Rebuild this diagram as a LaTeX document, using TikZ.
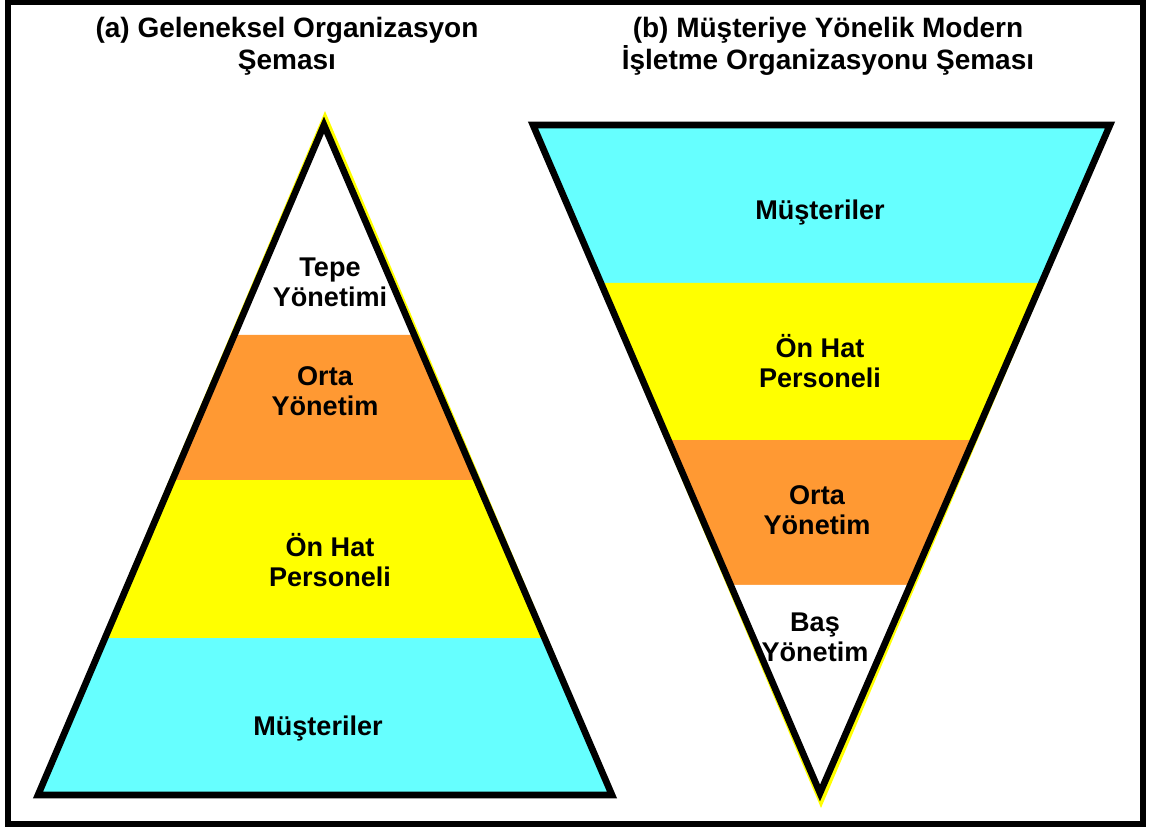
\documentclass[tikz,border=0pt]{standalone}
\usepackage{fontspec}
\setmainfont{Liberation Sans}
\usetikzlibrary{calc}
\definecolor{bandcyan}{HTML}{66FFFF}
\definecolor{bandyellow}{HTML}{FFFF00}
\definecolor{bandorange}{HTML}{FF9933}
\begin{document}
\begin{tikzpicture}[x=0.75pt,y=-0.75pt,
  edge/.style={draw=black,line width=5pt,line join=miter},
  title/.style={font=\bfseries\fontsize{21}{24}\selectfont,align=center,text=black},
  label/.style={font=\bfseries\fontsize{20.3}{22.5}\selectfont,align=center,text=black}]
\useasboundingbox (0,0) rectangle (1150,827);
\fill[white] (0,0) rectangle (1150,827);
% outer frame
\draw[line width=4.5pt] (8,2.5) rectangle (1143,824);

% ---- (a) traditional pyramid ----
\coordinate (aT) at (324,125);
\coordinate (aL) at (38,795);
\coordinate (aR) at (612,795);
\fill[bandyellow] (325,111) -- (35,797) -- (615,797) -- cycle;
\fill[white] (aT) -- ($(aT)!0.3134!(aL)$) -- ($(aT)!0.3134!(aR)$) -- cycle;
\fill[bandorange] ($(aT)!0.3134!(aL)$) -- ($(aT)!0.5299!(aL)$) -- ($(aT)!0.5299!(aR)$) -- ($(aT)!0.3134!(aR)$) -- cycle;
\fill[bandyellow] ($(aT)!0.5299!(aL)$) -- ($(aT)!0.7657!(aL)$) -- ($(aT)!0.7657!(aR)$) -- ($(aT)!0.5299!(aR)$) -- cycle;
\fill[bandcyan] ($(aT)!0.7657!(aL)$) -- (aL) -- (aR) -- ($(aT)!0.7657!(aR)$) -- cycle;
\draw[edge] (aT) -- (aL) -- (aR) -- cycle;

\node[title] (atitle) at (287,46) {(a) Geleneksel Organizasyon\\Şeması};
\node[label] (atop) at (330,282) {Tepe\\Yönetimi};
\node[label] (amid) at (325,391) {Orta\\Yönetim};
\node[label] (aline) at (330,560) {Ön Hat\\Personeli};
\node[label] (acust) at (318,728) {Müşteriler};

% ---- (b) customer-oriented inverted pyramid ----
\coordinate (bB) at (820,793);
\coordinate (bL) at (533,125);
\coordinate (bR) at (1110,125);
\fill[bandyellow] (821,808) -- (531,124) -- (1112,124) -- cycle;
\fill[bandcyan] (bL) -- (bR) -- ($(bR)!0.2365!(bB)$) -- ($(bL)!0.2365!(bB)$) -- cycle;
\fill[bandyellow] ($(bL)!0.2365!(bB)$) -- ($(bR)!0.2365!(bB)$) -- ($(bR)!0.4716!(bB)$) -- ($(bL)!0.4716!(bB)$) -- cycle;
\fill[bandorange] ($(bL)!0.4716!(bB)$) -- ($(bR)!0.4716!(bB)$) -- ($(bR)!0.6886!(bB)$) -- ($(bL)!0.6886!(bB)$) -- cycle;
\fill[white] ($(bL)!0.6886!(bB)$) -- ($(bR)!0.6886!(bB)$) -- (bB) -- cycle;
\draw[edge] (bL) -- (bR) -- (bB) -- cycle;

\node[title] (btitle) at (828,46) {(b) Müşteriye Yönelik Modern\\İşletme Organizasyonu Şeması};
\node[label] (bcust) at (820,213) {Müşteriler};
\node[label] (bline) at (820,361) {Ön Hat\\Personeli};
\node[label] (bmid) at (817,510) {Orta\\Yönetim};
\node[label] (btop) at (815,637) {Baş\\Yönetim};
\end{tikzpicture}
\end{document}
